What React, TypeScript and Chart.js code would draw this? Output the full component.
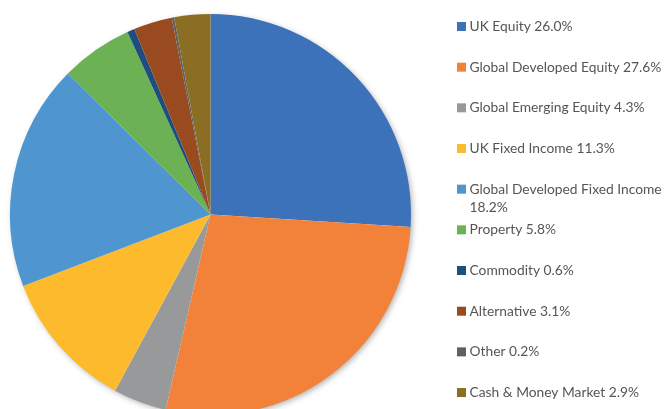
import React, { useEffect, useRef } from "react";
import { Chart, registerables } from "chart.js";

Chart.register(...registerables);

const categories = [
  "UK Equity",
  "Global Developed Equity",
  "Global Emerging Equity",
  "UK Fixed Income",
  "Global Developed Fixed Income",
  "Property",
  "Commodity",
  "Alternative",
  "Other",
  "Cash & Money Market",
];
const values = [26.0, 27.6, 4.3, 11.3, 18.2, 5.8, 0.6, 3.1, 0.2, 2.9];
const colors = [
  "#3C72B9",
  "#F2823A",
  "#97999B",
  "#FDBA2C",
  "#4F96D1",
  "#6CB255",
  "#1E4E7E",
  "#9A4A1F",
  "#5E6163",
  "#8C6D24",
];

const W = 665;
const H = 409;

export default function App() {
  const ref = useRef<HTMLCanvasElement | null>(null);
  useEffect(() => {
    if (!ref.current) return;
    const shadowPlugin = {
      id: "pieShadow",
      beforeDatasetsDraw(chart: any) {
        const meta = chart.getDatasetMeta(0);
        const arc = meta.data[0];
        if (!arc) return;
        const { x, y, outerRadius } = arc.getProps(["x", "y", "outerRadius"], true);
        const ctx = chart.ctx;
        ctx.save();
        ctx.shadowColor = "rgba(0,0,0,0.35)";
        ctx.shadowBlur = 6;
        ctx.shadowOffsetX = 2;
        ctx.shadowOffsetY = 2;
        ctx.beginPath();
        ctx.arc(x, y, outerRadius - 1, 0, Math.PI * 2);
        ctx.fillStyle = "#ffffff";
        ctx.fill();
        ctx.restore();
      },
    };
    const legendPlugin = {
      id: "sideLegend",
      afterDraw(chart: any) {
        const ctx = chart.ctx;
        ctx.save();
        ctx.font = "13.8px Lato";
        ctx.textBaseline = "middle";
        ctx.textAlign = "left";
        const boxX = 457;
        const textX = 469.5;
        const y0 = 26.5;
        const step = 40.67;
        const maxW = 200;
        categories.forEach((c, i) => {
          const label = `${c} ${values[i].toFixed(1)}%`;
          const cy = y0 + step * i;
          ctx.fillStyle = colors[i];
          ctx.fillRect(boxX, cy - 4.5, 9, 9);
          ctx.fillStyle = "#555555";
          if (ctx.measureText(label).width > maxW) {
            const words = label.split(" ");
            const last = words.pop();
            ctx.fillText(words.join(" "), textX, cy);
            ctx.fillText(last, textX, cy + 18.5);
          } else {
            ctx.fillText(label, textX, cy);
          }
        });
        ctx.restore();
      },
    };
    const chart = new Chart(ref.current, {
      type: "pie",
      data: {
        labels: categories,
        datasets: [
          {
            data: values,
            backgroundColor: colors,
            borderWidth: 0,
            clip: false,
          } as any,
        ],
      },
      options: {
        responsive: false,
        animation: false,
        layout: { padding: { left: 10, top: 14, right: 254, bottom: 0 } },
        plugins: {
          legend: { display: false },
          tooltip: { enabled: false },
          title: { display: false },
        },
      },
      plugins: [shadowPlugin, legendPlugin],
    });
    return () => chart.destroy();
  }, []);
  return (
    <div
      style={{
        position: "fixed",
        left: 0,
        top: 0,
        width: W,
        height: H,
        overflow: "hidden",
        background: "#ffffff",
      }}
    >
      <canvas ref={ref} width={W} height={415} style={{ display: "block" }} />
    </div>
  );
}
